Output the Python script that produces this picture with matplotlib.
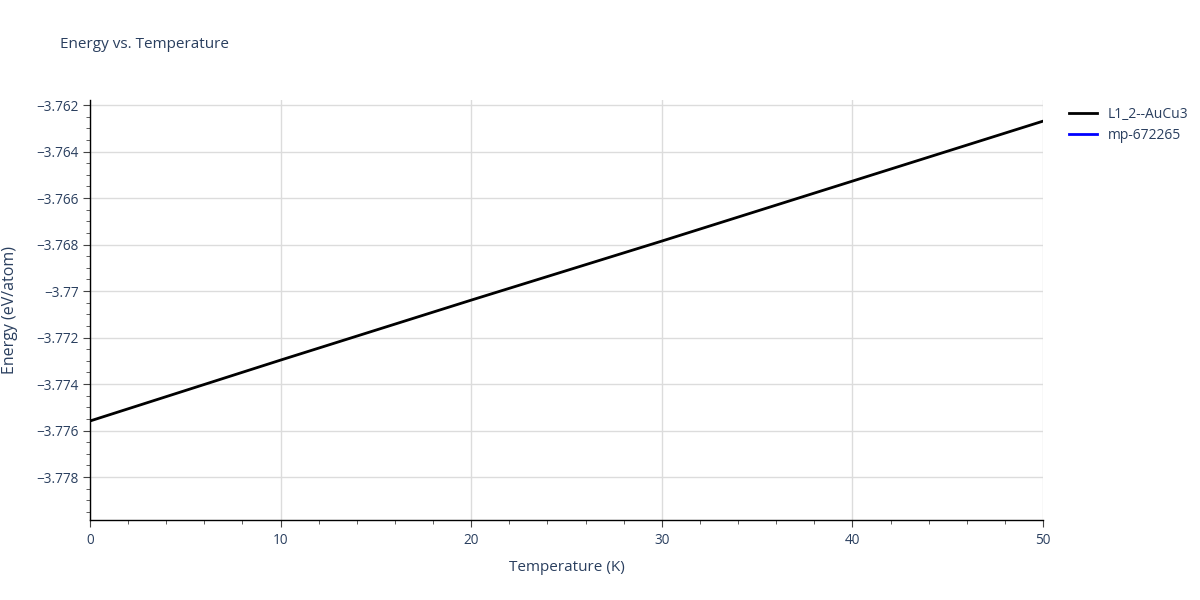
import matplotlib.pyplot as plt
from matplotlib.ticker import MultipleLocator, FuncFormatter

# data
temperature = [0, 10, 20, 30, 40, 50]
energy_l12 = [-3.77559, -3.77297, -3.77039, -3.76785, -3.76527, -3.76269]
energy_mp = []  # listed in legend, nothing drawn in range
names = ["L1_2--AuCu3", "mp-672265"]

plt.rcParams["font.family"] = ["Open Sans", "DejaVu Sans"]
txt = "#2a3f5f"
fig = plt.figure(figsize=(12, 6), dpi=100)
ax = fig.add_axes([90 / 1200, 80 / 600, (1043 - 90) / 1200, (520 - 100) / 600])

ax.plot(temperature, energy_l12, color="black", lw=2, label=names[0])
ax.plot([], energy_mp, color="blue", lw=2, label=names[1])

ax.set_xlim(0, 50)
ax.set_ylim(-3.77985, -3.76178)
ax.xaxis.set_major_locator(MultipleLocator(10))
ax.xaxis.set_minor_locator(MultipleLocator(2))
ax.yaxis.set_major_locator(MultipleLocator(0.002))
ax.yaxis.set_minor_locator(MultipleLocator(0.0005))


def yfmt(v, pos):
    s = f"{v:.3f}".rstrip("0").rstrip(".")
    return s.replace("-", "\u2212")


ax.yaxis.set_major_formatter(FuncFormatter(yfmt))
ax.grid(True, which="major", color="#dcdcdc", lw=1)
ax.set_axisbelow(True)
for s in ["top", "right"]:
    ax.spines[s].set_visible(False)
for s in ["left", "bottom"]:
    ax.spines[s].set_color("black")
    ax.spines[s].set_linewidth(1)
ax.tick_params(which="major", direction="out", length=5, color="#444", labelsize=9.8, labelcolor=txt)
ax.tick_params(which="minor", direction="out", length=3, color="#444")
ax.tick_params(axis="x", pad=4)
ax.tick_params(axis="y", pad=3)

ax.set_xlabel("Temperature (K)", fontsize=11, color=txt, labelpad=9)
ax.set_ylabel("Energy (eV/atom)", fontsize=11.5, color=txt, labelpad=13)
fig.text(60 / 1200, 1 - 45 / 600, "Energy vs. Temperature", fontsize=11, color=txt, va="center")

leg = ax.legend(loc="upper left", bbox_to_anchor=(1.02, 1.0), frameon=False, fontsize=10,
                handlelength=2.0, labelspacing=0.4, borderaxespad=0.1)
for t in leg.get_texts():
    t.set_color(txt)

fig.savefig("out.png", dpi=100)
